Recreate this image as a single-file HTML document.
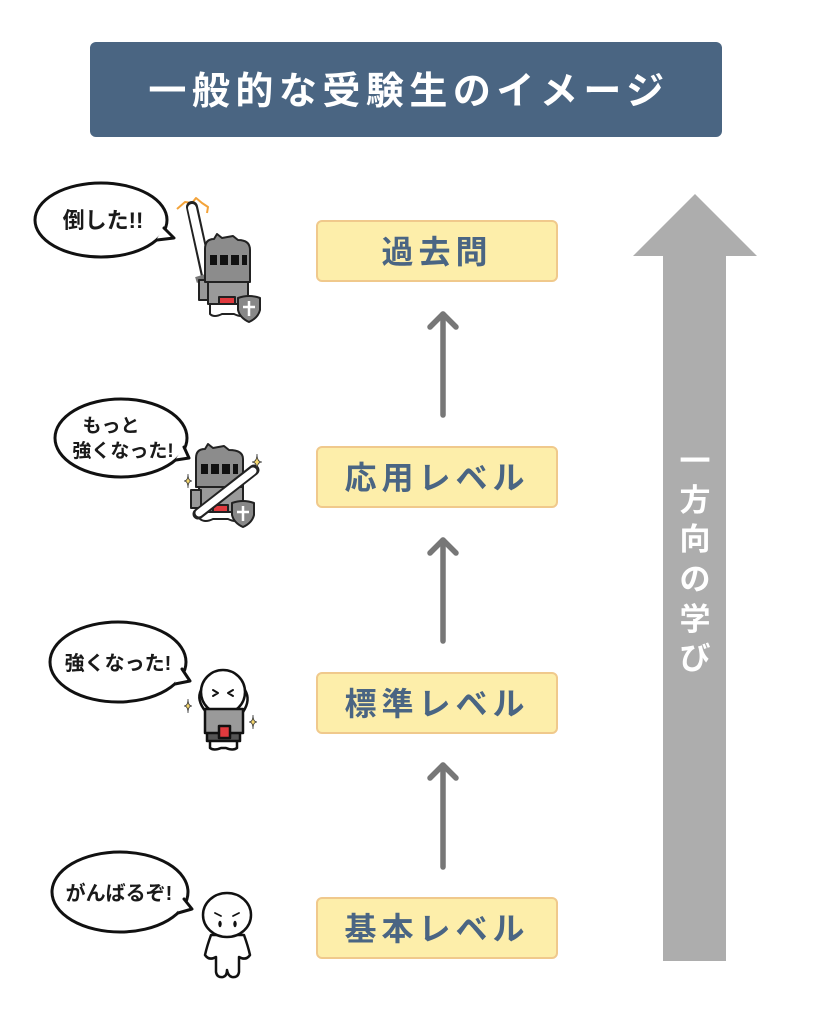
<!DOCTYPE html>
<html>
<head>
<meta charset="utf-8">
<style>
  html,body{margin:0;padding:0;background:#fff;}
  svg{display:block;}
  .jp{font-family:"Liberation Sans","Noto Sans CJK JP",sans-serif;}
</style>
</head>
<body>
<svg width="819" height="1024" viewBox="0 0 819 1024" xmlns="http://www.w3.org/2000/svg">
  <rect x="0" y="0" width="819" height="1024" fill="#ffffff"/>

  <!-- Title -->
  <rect x="90" y="42" width="632" height="95" rx="6" fill="#4a6582"/>
  <text class="jp" x="409" y="104" text-anchor="middle" font-size="38" font-weight="700" fill="#ffffff" letter-spacing="5.5">一般的な受験生のイメージ</text>

  <!-- Big arrow -->
  <polygon points="695,194 757,256 726,256 726,961 663,961 663,256 633,256" fill="#adadad"/>
  <g class="jp" font-size="31" font-weight="700" fill="#ffffff" text-anchor="middle">
    <text x="695" y="472">一</text>
    <text x="695" y="511">方</text>
    <text x="695" y="550">向</text>
    <text x="695" y="590">の</text>
    <text x="695" y="630">学</text>
    <text x="695" y="669">び</text>
  </g>

  <!-- Level boxes -->
  <g fill="#fdeeaa" stroke="#f0c98c" stroke-width="2">
    <rect x="317" y="221" width="240" height="60" rx="5"/>
    <rect x="317" y="447" width="240" height="60" rx="5"/>
    <rect x="317" y="673" width="240" height="60" rx="5"/>
    <rect x="317" y="898" width="240" height="60" rx="5"/>
  </g>
  <g class="jp" font-size="32" font-weight="700" fill="#4a6583" text-anchor="middle" letter-spacing="5">
    <text x="437" y="263">過去問</text>
    <text x="437" y="489">応用レベル</text>
    <text x="437" y="715">標準レベル</text>
    <text x="437" y="940">基本レベル</text>
  </g>

  <!-- small arrows -->
  <g stroke="#777777" stroke-width="5.5" stroke-linecap="round" stroke-linejoin="round" fill="none">
    <line x1="443" y1="415" x2="443" y2="314"/>
    <polyline points="430,327 443,314 456,327"/>
    <line x1="443" y1="641" x2="443" y2="540"/>
    <polyline points="430,553 443,540 456,553"/>
    <line x1="443" y1="867" x2="443" y2="765"/>
    <polyline points="430,778 443,765 456,778"/>
  </g>

  <!-- Speech bubbles -->
  <g fill="#ffffff" stroke="#111" stroke-width="3">
    <ellipse cx="101" cy="220" rx="66" ry="37"/>
    <ellipse cx="121" cy="438" rx="66" ry="39"/>
    <ellipse cx="118" cy="662" rx="68" ry="40"/>
    <ellipse cx="120" cy="892" rx="68" ry="40"/>
  </g>
  <!-- tails -->
  <g fill="#ffffff" stroke="none">
    <polygon points="163,229 174,238 156,240"/>
    <polygon points="183,448 189,458 175,460"/>
    <polygon points="181,670 190,681 174,684"/>
    <polygon points="183,900 192,909 177,913"/>
  </g>
  <g fill="none" stroke="#111" stroke-width="3" stroke-linejoin="round" stroke-linecap="round">
    <polyline points="164,228 174,238 157,240"/>
    <polyline points="184,447 189,458 176,460"/>
    <polyline points="182,669 190,681 175,684"/>
    <polyline points="184,899 192,909 178,913"/>
  </g>
  <g class="jp" fill="#1a1a1a" text-anchor="middle" font-weight="700">
    <text x="103" y="228" font-size="22">倒した!!</text>
    <text x="111" y="432" font-size="19">もっと</text>
    <text x="123" y="457" font-size="19">強くなった!</text>
    <text x="118" y="670" font-size="20">強くなった!</text>
    <text x="119" y="900" font-size="20">がんばるぞ!</text>
  </g>

  <!-- Knight 1 -->
  <g stroke="#222" stroke-width="2" stroke-linejoin="round">
    <polyline points="177,209 185,202 192,203 196,198 202,203 208,207 207,213" fill="none" stroke="#f3a33a" stroke-width="2"/>
    <line x1="192" y1="207" x2="207" y2="276" stroke="#222" stroke-width="12" stroke-linecap="round"/>
    <line x1="192" y1="208" x2="207" y2="275" stroke="#ffffff" stroke-width="8" stroke-linecap="round"/>
    <line x1="196" y1="280" x2="216" y2="274" stroke="#777" stroke-width="6"/>
    <rect x="199" y="280" width="14" height="20" fill="#999"/>
    <path d="M205,282 L205,249 Q205,239 214,239 L217,234 L222,238 L233,236 L238,240 Q250,240 250,250 L250,282 Z" fill="#8c8c8c"/>
    <g fill="#111" stroke="none">
      <rect x="210" y="255" width="7" height="10"/>
      <rect x="220" y="255" width="8" height="10"/>
      <rect x="231" y="255" width="8" height="10"/>
      <rect x="242" y="255" width="5" height="10"/>
    </g>
    <rect x="208" y="282" width="40" height="22" fill="#9a9a9a"/>
    <rect x="219" y="297" width="16" height="9" fill="#e03a3e"/>
    <path d="M210,304 L210,314 Q214,318 222,314 L234,314 Q242,318 246,314 L246,304 Z" fill="#ffffff"/>
    <path d="M238,298 Q249,294 260,298 L260,310 Q258,318 249,322 Q240,318 238,310 Z" fill="#888"/>
    <path d="M249,301 L249,316 M243,307 L255,307" stroke="#fff" stroke-width="2.5" fill="none"/>
  </g>

  <!-- Knight 2 -->
  <g stroke="#222" stroke-width="2" stroke-linejoin="round">
    <path d="M196,487 L196,458 Q196,449 205,449 L208,444 L213,448 L224,446 L229,450 Q243,450 243,459 L243,487 Z" fill="#8c8c8c"/>
    <g fill="#111" stroke="none">
      <rect x="201" y="464" width="7" height="10"/>
      <rect x="211" y="464" width="8" height="10"/>
      <rect x="222" y="464" width="8" height="10"/>
      <rect x="233" y="464" width="5" height="10"/>
    </g>
    <rect x="199" y="487" width="44" height="25" fill="#9a9a9a"/>
    <rect x="191" y="490" width="10" height="18" fill="#999"/>
    <rect x="213" y="505" width="15" height="10" fill="#e03a3e"/>
    <path d="M200,512 L200,519 Q205,523 213,519 L228,519 Q236,523 241,519 L241,512 Z" fill="#fff"/>
    <line x1="198" y1="514" x2="254" y2="470" stroke="#222" stroke-width="11" stroke-linecap="round"/>
    <line x1="199" y1="513" x2="253" y2="471" stroke="#ffffff" stroke-width="7" stroke-linecap="round"/>
    <path d="M232,503 Q243,499 254,503 L254,515 Q252,523 243,527 Q234,523 232,515 Z" fill="#888"/>
    <path d="M243,506 L243,521 M237,512 L249,512" stroke="#fff" stroke-width="2.5" fill="none"/>
  </g>
  <g fill="#f5d76e" stroke="#333" stroke-width="0.8">
    <path d="M188,474 Q188,481 192,481 Q188,481 188,488 Q188,481 184,481 Q188,481 188,474 Z"/>
    <path d="M257,454 Q257,462 262,462 Q257,462 257,470 Q257,462 252,462 Q257,462 257,454 Z"/>
    <path d="M188,699 Q188,706 192,706 Q188,706 188,713 Q188,706 184,706 Q188,706 188,699 Z"/>
    <path d="M253,715 Q253,722 257,722 Q253,722 253,729 Q253,722 249,722 Q253,722 253,715 Z"/>
  </g>

  <!-- Character 3 -->
  <g stroke="#111" stroke-width="2.5" stroke-linejoin="round" stroke-linecap="round">
    <path d="M206,712 Q196,700 201,690 M243,712 Q251,700 245,690" fill="none"/>
    <circle cx="223" cy="692" r="22" fill="#ffffff"/>
    <path d="M213,690 L218,693 L213,696 M233,690 L228,693 L233,696" fill="none" stroke-width="2"/>
    <path d="M210,738 L210,748 Q214,751 221,748 L226,748 Q233,751 237,748 L237,738 Z" fill="#ffffff"/>
    <rect x="207" y="731" width="33" height="10" fill="#555"/>
    <rect x="205" y="709" width="38" height="24" fill="#9a9a9a"/>
    <rect x="219" y="726" width="11" height="12" fill="#e03a3e"/>
  </g>

  <!-- Character 4 -->
  <g stroke="#111" stroke-width="2.5" stroke-linejoin="round" stroke-linecap="round">
    <path d="M211,935 Q207,946 205,955 Q209,961 216,957 L216,972 Q217,978 223,977 Q227,976 227,970 Q228,976 232,977 Q238,978 239,972 L239,957 Q246,961 250,955 Q248,946 244,935 Z" fill="#ffffff"/>
    <ellipse cx="227" cy="915" rx="24" ry="22" fill="#ffffff"/>
    <path d="M215,913 L221,916 M239,913 L233,916" fill="none" stroke-width="1.8"/>
    <ellipse cx="220" cy="924" rx="1.7" ry="3.2" fill="#111" stroke="none"/>
    <ellipse cx="235" cy="924" rx="1.7" ry="3.2" fill="#111" stroke="none"/>
  </g>
</svg>
</body>
</html>
